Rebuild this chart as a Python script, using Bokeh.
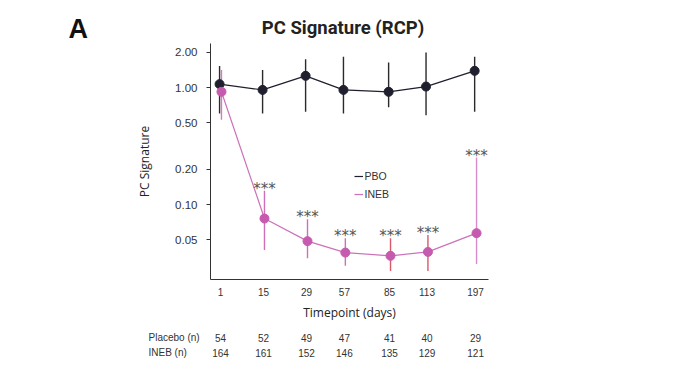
from bokeh.plotting import figure
from bokeh.layouts import column
from bokeh.models import (Range1d, FixedTicker, PrintfTickFormatter, CustomJSTickFormatter,
                          Label, Legend, LegendItem, ColumnDataSource)
from bokeh.core.properties import value
from bokeh.embed import file_html
from bokeh.resources import INLINE

# ---- data ----
days = ["1", "15", "29", "57", "85", "113", "197"]
x_pos = [0, 1, 2, 2.88, 3.93, 4.8, 5.93]

pbo_mean = [1.07, 0.955, 1.26, 0.955, 0.92, 1.02, 1.39]
pbo_lower = [0.60, 0.60, 0.62, 0.60, 0.68, 0.58, 0.62]
pbo_upper = [1.53, 1.41, 1.75, 1.83, 1.64, 1.99, 1.83]

ineb_mean = [0.92, 0.076, 0.0487, 0.0389, 0.0365, 0.0394, 0.057]
ineb_lower = [0.53, 0.041, 0.0348, 0.030, 0.0271, 0.0271, 0.031]
ineb_upper = [1.41, 0.131, 0.075, 0.0516, 0.0516, 0.055, 0.252]

stars = ["", "***", "***", "***", "***", "***", "***"]

placebo_n = [54, 52, 49, 47, 41, 40, 29]
ineb_n = [164, 161, 152, 146, 135, 129, 121]

y_ticks = [0.05, 0.1, 0.2, 0.5, 1.0, 2.0]

# ---- styles / layout ----
PBO_COL = "#1f1f2e"
INEB_COL = "#c65aae"
INEB_LINE = "#cc72b9"
ineb_bar_cols = ["#d27cc0", "#cf6fb8", "#cf6fb8", "#cf6fb8", "#d85a6a", "#d85a6a", "#d88ccb"]
TXT = "#333333"
dodge = 0.022

W = 667
HEAD_H, MAIN_H, FOOT_H = 43, 279, 42
BL, BR, BB = 210, 179, 43
FW, FH = W - BL - BR, MAIN_H - BB
X0, X1 = -0.233, 6.23
scale = FW / (X1 - X0)


def bare(fig, h):
    fig.outline_line_color = None
    fig.xgrid.visible = False
    fig.ygrid.visible = False
    fig.min_border = 0
    fig.min_border_left = 0
    fig.min_border_right = 0
    fig.min_border_top = 0
    fig.min_border_bottom = 0
    fig.frame_align = False
    fig.frame_width = W
    fig.frame_height = h
    return fig


# ---- header (panel letter + title) ----
head = bare(figure(output_backend="svg", toolbar_location=None, title_location=None,
                   x_range=Range1d(0, W), y_range=Range1d(0, HEAD_H),
                   x_axis_location=None, y_axis_location=None), HEAD_H)
head.add_layout(Label(x=342.5, y=15.8, text="PC Signature (RCP)",
                      text_align="center", text_baseline="middle", text_font="Roboto",
                      text_font_style="bold", text_font_size="18.5px", text_color="#222222"))
head.add_layout(Label(x=68, y=14.7, text="A",
                      text_align="left", text_baseline="middle", text_font="Liberation Sans",
                      text_font_style="bold", text_font_size="27px", text_color="#111111"))

# ---- main plot ----
p = figure(frame_width=FW, frame_height=FH, output_backend="svg", toolbar_location=None,
           title_location=None, y_axis_type="log",
           x_range=Range1d(X0, X1), y_range=Range1d(0.0229, 2.38),
           min_border_left=BL, min_border_right=BR, min_border_top=0, min_border_bottom=BB)
p.outline_line_color = None
p.xgrid.visible = False
p.ygrid.visible = False
p.frame_align = False

xp = [x - dodge for x in x_pos]
xi = [x + dodge for x in x_pos]

src_p = ColumnDataSource(dict(x=xp, m=pbo_mean, lo=pbo_lower, hi=pbo_upper))
src_i = ColumnDataSource(dict(x=xi, m=ineb_mean, lo=ineb_lower, hi=ineb_upper,
                              c=ineb_bar_cols, s=stars))

p.segment(x0="x", y0="lo", x1="x", y1="hi", source=src_p, line_color="#2a2a2a", line_width=1.4)
p.segment(x0="x", y0="lo", x1="x", y1="hi", source=src_i, line_color="c", line_width=1.4)
lp = p.line("x", "m", source=src_p, line_color=PBO_COL, line_width=1.2)
li = p.line("x", "m", source=src_i, line_color=INEB_LINE, line_width=1.2)
p.scatter("x", "m", source=src_p, size=9, fill_color=PBO_COL, line_color=PBO_COL)
p.scatter("x", "m", source=src_i, size=9, fill_color=INEB_COL, line_color=INEB_COL)

p.text(x="x", y="hi", text="s", source=src_i, text_align="center", text_baseline="alphabetic",
       y_offset=-2, text_font=value("DejaVu Sans"), text_font_size="15px", text_color="#555555")

p.xaxis.ticker = FixedTicker(ticks=x_pos)
p.xaxis.formatter = CustomJSTickFormatter(args=dict(pos=x_pos, labs=days), code="""
    let best = 0, d = 1e9;
    for (let i = 0; i < pos.length; i++) { const dd = Math.abs(pos[i] - tick); if (dd < d) { d = dd; best = i; } }
    return labs[best];
""")
p.xaxis.major_tick_line_color = None
p.xaxis.major_tick_out = 0
p.xaxis.major_tick_in = 0
p.xaxis.minor_tick_line_color = None
p.xaxis.major_label_standoff = 8
p.xaxis.major_label_text_font = "Liberation Sans"
p.xaxis.major_label_text_font_size = "10px"
p.xaxis.major_label_text_color = TXT
p.xaxis.axis_label = "Timepoint (days)"
p.xaxis.axis_label_text_font = "Open Sans"
p.xaxis.axis_label_text_font_style = "normal"
p.xaxis.axis_label_text_font_size = "12px"
p.xaxis.axis_label_text_color = "#222222"
p.xaxis.axis_label_standoff = 5
p.xaxis.axis_line_color = "#333333"

p.yaxis.ticker = FixedTicker(ticks=y_ticks)
p.yaxis.formatter = PrintfTickFormatter(format="%.2f")
p.yaxis.major_tick_out = 4
p.yaxis.major_tick_in = 0
p.yaxis.minor_tick_line_color = None
p.yaxis.major_tick_line_color = "#333333"
p.yaxis.major_label_standoff = 9
p.yaxis.major_label_text_font = "Liberation Sans"
p.yaxis.major_label_text_font_size = "11.5px"
p.yaxis.major_label_text_color = TXT
p.yaxis.axis_label = "PC Signature"
p.yaxis.axis_label_text_font = "Open Sans"
p.yaxis.axis_label_text_font_style = "normal"
p.yaxis.axis_label_text_font_size = "12px"
p.yaxis.axis_label_text_color = "#222222"
p.yaxis.axis_label_standoff = 19
p.yaxis.axis_line_color = "#333333"

legend = Legend(items=[LegendItem(label="PBO", renderers=[lp]),
                       LegendItem(label="INEB", renderers=[li])],
                location=(143.5, 78), padding=0, margin=0, spacing=4,
                glyph_width=9, glyph_height=14, label_height=14, label_standoff=2,
                border_line_color=None, background_fill_alpha=0,
                label_text_font="Liberation Sans", label_text_font_size="10.5px",
                label_text_color=TXT)
p.add_layout(legend, "center")

# ---- footer (n table), same x mapping as main plot ----
foot = bare(figure(output_backend="svg", toolbar_location=None, title_location=None,
                   x_range=Range1d(X0 - BL / scale, X1 + BR / scale), y_range=Range1d(0, FOOT_H),
                   x_axis_location=None, y_axis_location=None), FOOT_H)
ROW_P, ROW_I = 28, 13
for lab, yy in (("Placebo (n)", ROW_P), ("INEB (n)", ROW_I)):
    foot.add_layout(Label(x=148, y=yy, x_units="screen", text=lab,
                          text_align="left", text_baseline="middle", text_font="Liberation Sans",
                          text_font_size="10px", text_color=TXT))
src_n = ColumnDataSource(dict(x=x_pos, a=[str(v) for v in placebo_n], b=[str(v) for v in ineb_n]))
foot.text(x="x", y=ROW_P, text="a", source=src_n, text_align="center", text_baseline="middle",
          text_font=value("Liberation Sans"), text_font_size="10px", text_color=TXT)
foot.text(x="x", y=ROW_I, text="b", source=src_n, text_align="center", text_baseline="middle",
          text_font=value("Liberation Sans"), text_font_size="10px", text_color=TXT)

layout = column(head, p, foot, spacing=0)
open("out.html", "w").write(file_html(layout, INLINE))
